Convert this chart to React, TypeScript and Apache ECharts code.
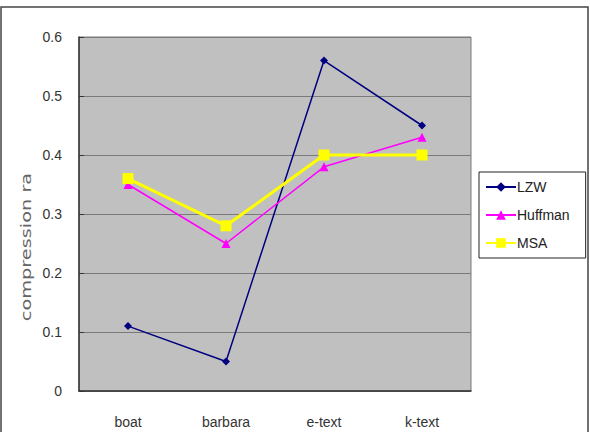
import React, { useEffect, useRef } from "react";
import * as echarts from "echarts";

const categories = ["boat", "barbara", "e-text", "k-text"];
const lzw = [0.11, 0.05, 0.56, 0.45];
const huffman = [0.35, 0.25, 0.38, 0.43];
const msa = [0.36, 0.28, 0.4, 0.4];
const yAxisTitle = "compression ra";

const FONT = "'Liberation Sans Narrow', 'Arial Narrow', 'Liberation Sans', sans-serif";

export default function App() {
  const ref = useRef<HTMLDivElement>(null);
  useEffect(() => {
    const chart = echarts.init(ref.current!, null, { renderer: "svg" });
    chart.setOption({
      animation: false,
      backgroundColor: "#ffffff",
      grid: {
        left: 79,
        top: 37,
        right: 119,
        bottom: 41,
        show: true,
        backgroundColor: "#c0c0c0",
        borderColor: "#7a7a7a",
        borderWidth: 1,
      },
      graphic: [
        {
          type: "rect",
          shape: { x: 1, y: 7, width: 587, height: 440 },
          style: { fill: "none", stroke: "#444", lineWidth: 1.5 },
          silent: true,
        },
        {
          type: "text",
          x: 26,
          y: 247,
          rotation: Math.PI / 2,
          scaleX: 1.38,
          style: {
            text: yAxisTitle,
            fontSize: 14,
            fontFamily: "'DejaVu Sans', sans-serif",
            fill: "#666",
            align: "center",
            verticalAlign: "middle",
          },
        },
      ],
      legend: {
        orient: "vertical",
        left: 479,
        top: 172,
        backgroundColor: "#fff",
        borderColor: "#222",
        borderWidth: 1,
        borderRadius: 0,
        padding: [8, 16, 8, 6],
        itemGap: 14,
        itemWidth: 30,
        itemHeight: 12,
        textStyle: { fontSize: 14, fontFamily: FONT, color: "#222", padding: [0, 0, 0, -4] },
        data: ["LZW", "Huffman", "MSA"],
      },
      xAxis: {
        type: "category",
        data: categories,
        boundaryGap: true,
        axisLine: { lineStyle: { color: "#333", width: 1.5 } },
        axisTick: { inside: true, length: 6, lineStyle: { color: "#333" } },
        axisLabel: { fontSize: 14, fontFamily: FONT, color: "#333", margin: 24 },
        splitLine: { show: false },
      },
      yAxis: {
        type: "value",
        min: 0,
        max: 0.6,
        interval: 0.1,
        axisLine: { show: true, lineStyle: { color: "#333", width: 1.5 } },
        axisTick: { show: true, inside: true, length: 5, lineStyle: { color: "#333" } },
        axisLabel: { fontSize: 14, fontFamily: FONT, color: "#333", margin: 17 },
        splitLine: { lineStyle: { color: "#7a7a7a", width: 1 } },
      },
      series: [
        {
          name: "LZW",
          type: "line",
          data: lzw,
          color: "#000080",
          symbol: "diamond",
          symbolSize: 8,
          lineStyle: { width: 1.5, color: "#000080" },
          itemStyle: { color: "#000080" },
        },
        {
          name: "Huffman",
          type: "line",
          data: huffman,
          color: "#ff00ff",
          symbol: "triangle",
          symbolSize: 9,
          lineStyle: { width: 1.5, color: "#ff00ff" },
          itemStyle: { color: "#ff00ff" },
        },
        {
          name: "MSA",
          type: "line",
          data: msa,
          color: "#ffff00",
          symbol: "rect",
          symbolSize: 11,
          lineStyle: { width: 3, color: "#ffff00" },
          itemStyle: { color: "#ffff00" },
        },
      ],
    });
    return () => chart.dispose();
  }, []);
  return <div ref={ref} style={{ width: 590, height: 432, position: "absolute", left: 0, top: 0 }} />;
}
